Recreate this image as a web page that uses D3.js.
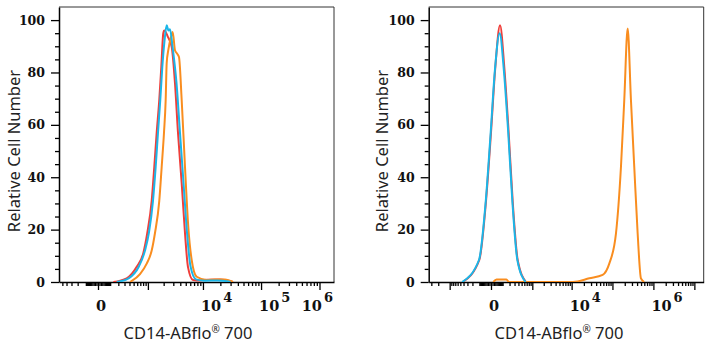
<!DOCTYPE html>
<html>
<head>
<meta charset="utf-8">
<script src="https://cdn.jsdelivr.net/npm/d3@7"></script>
<style>
  body { margin: 0; background: #fff; }
  svg { display: block; }
</style>
</head>
<body>
<div id="chart"></div>
<script>
// histogram points: [intensity, relative cell number]
const leftRed = [[135,0],[341,1.4],[585,5.8],[807,11],[972,18.7],[1187,31],[1333,44],[1480,57],[1657,69.5],[1807,82],[1969,95],[2054,96],
  [2403,93.5],[2804,89.8],[3214,76],[3640,57],[4235,37.8],[4846,18.7],[5477,5.7],[6700,0.8],[9000,0.6],[12000,0.9],[20000,1],[26000,0.6],[33000,0]];
const leftBlue = [[177,0],[389,1.5],[656,6],[874,12],[1051,19],[1258,31],[1418,44],[1567,57],[1731,69.5],[1886,82],[2071,92],[2274,98],
  [2453,96],[2613,96.5],[2898,90],[3423,76],[3950,57],[4559,38],[5257,19],[6059,6],[7563,1],[10840,0.5],[18000,0.6],[26000,0.3],[30000,0]];
const leftOrange = [[412,0],[689,3],[946,7],[1187,12],[1374,18.7],[1657,31],[1839,44],[2028,57],[2179,69.5],[2274,83.6],[2432,88.5],
  [2724,93.5],[2923,95.5],[3214,88.5],[3448,87.4],[3791,85.9],[4235,69.5],[4846,44],[5543,21],[6357,8.4],[7775,2],[11600,0.8],
  [16150,1],[24000,1],[33000,0]];

const rightRed = [[-425,0],[-101,8.4],[-35,31],[0,57],[30,82],[72,98],[121,82],[185,57],[259,31],[379,8.4],[668,0]];
const rightBlue = [[-440,0],[-105,8.4],[-37,31],[-2,57],[27,81],[68,95],[115,81],[178,57],[252,31],[370,8.4],[650,0]];
const rightOrange = [[15,0],[40,1],[150,1],[190,0],[10720,0],[27220,1.4],[57760,2.7],[83730,7],[121900,18.5],[161600,44],
  [194600,69.5],[235400,96.8],[283200,69.5],[341100,44],[413000,18.5],[496800,1.4],[598000,0]];

const leftXLabels = [0, 1e4, 1e5, 1e6];
const rightXLabels = [0, 1e4, 1e6];
const yTicks = [0, 20, 40, 60, 80, 100];
const yMinorTicks = [5, 10, 15, 25, 30, 35, 45, 50, 55, 65, 70, 75, 85, 90, 95];
const xTitle = "CD14-ABflo";
const yTitle = "Relative Cell Number";

const colors = {red: "#ef3e3a", blue: "#1bb6e8", orange: "#f98d1f"};

const svg = d3.select("#chart")
    .append("svg")
    .attr("width", 712)
    .attr("height", 350);

function drawPanel(p) {
    const x = d3.scaleSymlog()
        .constant(p.constant)
        .domain(p.domain)
        .range([p.left, p.right]);

    const y = d3.scaleLinear()
        .domain([0, 105])
        .range([282, 7]);

    const g = svg.append("g");

    // log style tick values
    const minor = [0], major = [0];
    for (let k = 1; k <= 7; k++) {
        for (let m = 1; m <= 9; m++) {
            [m * 10 ** k, -m * 10 ** k].forEach(v => {
                if (v > p.domain[0] && v < p.domain[1]) {
                    if (m === 1 && k >= 3) major.push(v); else minor.push(v);
                }
            });
        }
    }

    // frame
    g.append("path")
        .attr("d", `M${p.left},7H${p.right}V282`)
        .attr("fill", "none")
        .attr("stroke", "#333")
        .attr("stroke-width", 1);

    const xMinor = g.append("g")
        .attr("transform", "translate(0,282)")
        .call(d3.axisBottom(x).tickValues(minor).tickSize(4).tickSizeOuter(0).tickFormat(""));
    xMinor.select(".domain").remove();

    g.append("g")
        .attr("transform", "translate(0,282)")
        .call(d3.axisBottom(x).tickValues(major).tickSize(8).tickSizeOuter(0).tickFormat(""));

    const yMinor = g.append("g")
        .attr("transform", `translate(${p.left},0)`)
        .call(d3.axisLeft(y).tickValues(yMinorTicks).tickSize(4).tickSizeOuter(0).tickFormat(""));
    yMinor.select(".domain").remove();

    const yAxis = g.append("g")
        .attr("transform", `translate(${p.left},0)`)
        .call(d3.axisLeft(y).tickValues(yTicks).tickSize(8).tickSizeOuter(0));

    g.selectAll(".domain").attr("stroke", "#000").attr("stroke-width", 1.5);
    g.selectAll(".tick line").attr("stroke", "#000").attr("stroke-width", 1.3);

    yAxis.selectAll(".tick text")
        .attr("x", -14)
        .attr("font-family", "DejaVu Serif")
        .attr("font-weight", "bold")
        .attr("font-size", 12.5)
        .attr("fill", "#111");

    // x tick labels
    p.labels.forEach(v => {
        const t = g.append("text")
            .attr("y", 311)
            .attr("font-family", "DejaVu Serif")
            .attr("font-weight", "bold")
            .attr("font-size", 14.5)
            .attr("fill", "#111");
        if (v === 0) {
            t.attr("x", x(0) + 3).attr("text-anchor", "middle").text("0");
        } else {
            t.append("tspan").text("10");
            t.append("tspan").attr("dy", -9).attr("dx", 2).attr("font-size", 13).text(Math.log10(v));
            const w = t.node().getComputedTextLength();
            t.attr("x", Math.min(x(v) - 2, p.right - w - 3));
        }
    });

    // curves
    const clipId = "clip" + p.left;
    g.append("clipPath").attr("id", clipId)
        .append("rect")
        .attr("x", p.left).attr("y", 7)
        .attr("width", p.right - p.left).attr("height", 275);

    const line = d3.line()
        .x(d => x(d[0]))
        .y(d => y(d[1]))
        .curve(d3.curveMonotoneX);

    g.append("g")
        .attr("clip-path", `url(#${clipId})`)
        .selectAll("path")
        .data(p.series)
        .enter().append("path")
        .attr("d", d => line(d.values))
        .attr("fill", "none")
        .attr("stroke", d => d.color)
        .attr("stroke-width", 2)
        .attr("stroke-linejoin", "round");

    // titles
    const xt = g.append("text")
        .attr("x", p.xTitleX)
        .attr("y", 339)
        .attr("text-anchor", "middle")
        .attr("font-family", "Noto Sans")
        .attr("font-size", 16.5)
        .attr("fill", "#222");
    xt.append("tspan").text(xTitle);
    xt.append("tspan").attr("dy", -6).attr("font-size", 10).text("®");
    xt.append("tspan").attr("dy", 6).text(" 700");

    g.append("text")
        .attr("transform", `translate(${p.yTitleX},151) rotate(-90)`)
        .attr("text-anchor", "middle")
        .attr("dy", "0.35em")
        .attr("font-family", "Noto Sans")
        .attr("font-size", 16.5)
        .attr("fill", "#222")
        .text(yTitle);
}

drawPanel({
    left: 59, right: 334, constant: 163, domain: [-594, 1.77e6],
    labels: leftXLabels, xTitleX: 188, yTitleX: 14.5,
    series: [
        {color: colors.red, values: leftRed},
        {color: colors.orange, values: leftOrange},
        {color: colors.blue, values: leftBlue}
    ]
});

drawPanel({
    left: 428.7, right: 703.7, constant: 108.8, domain: [-3495, 1.69e7],
    labels: rightXLabels, xTitleX: 559, yTitleX: 382,
    series: [
        {color: colors.red, values: rightRed},
        {color: colors.orange, values: rightOrange},
        {color: colors.blue, values: rightBlue}
    ]
});
</script>
</body>
</html>
